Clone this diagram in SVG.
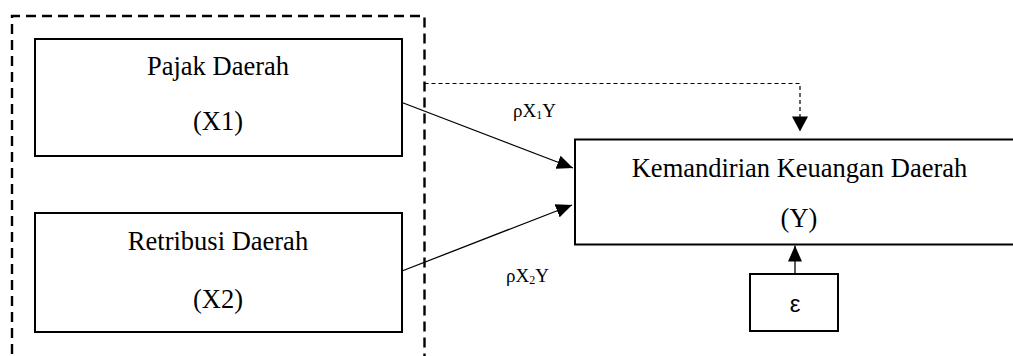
<svg xmlns="http://www.w3.org/2000/svg" width="1013" height="356" viewBox="0 0 1013 356">
  <style>
    .box { fill: #ffffff; stroke: #000000; stroke-width: 2; }
    .group { fill: none; stroke: #000000; stroke-width: 2.4; stroke-dasharray: 10 6; }
    .t { font-family: "Liberation Serif", "Times New Roman", serif; font-size: 26.5px; fill: #000000; text-anchor: middle; }
    .lbl { font-family: "Liberation Serif", "Times New Roman", serif; font-size: 19px; fill: #000000; }
    .eps { font-family: "Liberation Sans", Arial, sans-serif; font-size: 24px; fill: #000000; text-anchor: middle; }
    .edge { fill: none; stroke: #000000; stroke-width: 1.3; }
    .dash { fill: none; stroke: #000000; stroke-width: 1.2; stroke-dasharray: 4 3; }
  </style>
  <defs>
    <marker id="head" markerUnits="userSpaceOnUse" markerWidth="16" markerHeight="14" refX="16" refY="7" orient="auto">
      <path d="M0,0 L16,7 L0,14 Z" fill="#000000"/>
    </marker>
  </defs>

  <rect width="1013" height="356" fill="#ffffff"/>

  <!-- dashed frame around the independent variables -->
  <path id="frame" class="group" d="M12,370 L12,16 L424.5,16 L424.5,370"/>

  <g id="connectors">
    <line class="edge" x1="402" y1="102.5" x2="573" y2="168" marker-end="url(#head)"/>
    <line class="edge" x1="402" y1="271" x2="572" y2="205" marker-end="url(#head)"/>
    <path class="dash" d="M424.5,83.5 L800,83.5 L800,117"/>
    <path d="M792,116.5 L808,116.5 L800,131.5 Z" fill="#000000"/>
    <line class="edge" x1="795" y1="274" x2="795" y2="245.5" marker-end="url(#head)"/>
    <text class="lbl" x="513" y="117">ρX<tspan font-size="12" dy="2">1</tspan><tspan dy="-2">Y</tspan></text>
    <text class="lbl" x="506" y="282">ρX<tspan font-size="12" dy="2">2</tspan><tspan dy="-2">Y</tspan></text>
  </g>

  <g id="x1">
    <rect class="box" x="35" y="39" width="367" height="117"/>
    <text class="t" x="218" y="75">Pajak Daerah</text>
    <text class="t" x="218" y="130">(X1)</text>
  </g>

  <g id="x2">
    <rect class="box" x="35" y="213" width="367" height="119"/>
    <text class="t" x="218" y="250">Retribusi Daerah</text>
    <text class="t" x="218" y="308">(X2)</text>
  </g>

  <g id="y">
    <rect class="box" x="575" y="139.5" width="460" height="105"/>
    <text class="t" x="799.5" y="176.5">Kemandirian Keuangan Daerah</text>
    <text class="t" x="799" y="226.5">(Y)</text>
  </g>

  <g id="epsilon">
    <rect class="box" x="750" y="274" width="88" height="57"/>
    <text class="eps" x="795" y="311.5">ε</text>
  </g>
</svg>
